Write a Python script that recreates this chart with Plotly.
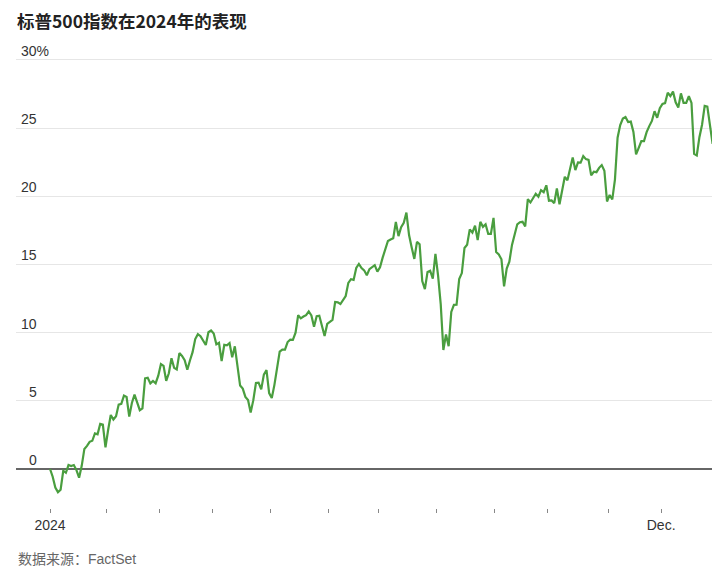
import pandas as pd
import plotly.graph_objects as go

# ---- data ----
holidays = ["2024-01-01", "2024-01-15", "2024-02-19", "2024-03-29", "2024-05-27",
            "2024-06-19", "2024-07-04", "2024-09-02", "2024-11-28", "2024-12-25"]

jan = [-0.57, -1.36, -1.70, -1.52, -0.13, -0.28, 0.29, 0.22, 0.29, -0.08, -0.64, 0.23, 1.47,
       1.69, 1.99, 2.07, 2.61, 2.54, 3.31, 3.25, 1.59]
feb = [2.86, 3.96, 3.63, 3.87, 4.72, 4.78, 5.38, 5.28, 3.84, 4.84, 5.45, 4.94, 4.31, 4.44,
       6.65, 6.69, 6.28, 6.46, 6.29, 6.84]
mar = [7.70, 7.57, 6.47, 7.02, 8.12, 7.42, 7.30, 8.50, 8.29, 7.98, 7.28, 7.96, 8.57, 9.53,
       9.89, 9.74, 9.40, 9.09, 10.03, 10.16]
apr = [9.94, 9.14, 9.26, 7.91, 9.11, 9.07, 9.23, 8.19, 9.00, 7.41, 6.12, 5.90, 5.29, 5.06,
       4.14, 5.05, 6.30, 6.33, 5.84, 6.92, 7.26, 5.57]
may = [5.21, 6.17, 7.50, 8.61, 8.76, 8.76, 9.31, 9.49, 9.47, 10.00, 11.28, 11.05, 11.18,
       11.28, 11.56, 11.26, 10.44, 11.21, 11.24, 10.42, 9.76, 10.64]
jun = [10.77, 10.93, 12.25, 12.22, 12.10, 12.39, 12.69, 13.65, 13.92, 13.87, 14.75, 15.04,
       14.74, 14.57, 14.21, 14.66, 14.84, 14.95, 14.48]
jul = [14.79, 15.50, 16.08, 16.72, 16.83, 16.92, 18.12, 17.08, 17.73, 18.06, 18.81, 17.16,
       16.24, 15.41, 16.66, 16.48, 13.78, 13.19, 14.45, 14.54, 13.97, 15.78]
aug = [14.19, 12.09, 8.73, 9.86, 9.01, 11.52, 12.04, 12.05, 13.93, 14.37, 16.21, 16.45,
       17.58, 17.34, 17.84, 16.79, 18.13, 17.76, 17.95, 17.24, 17.24, 18.42]
sep = [15.91, 15.73, 15.38, 13.39, 14.70, 15.21, 16.44, 17.32, 17.95, 18.10, 18.13, 17.79,
       19.79, 19.55, 19.89, 20.19, 19.97, 20.45, 20.30, 20.81]
oct_ = [19.68, 19.70, 19.50, 20.57, 19.42, 20.57, 21.43, 21.18, 21.91, 22.85, 21.92, 22.49,
        22.47, 22.95, 22.73, 22.67, 21.54, 21.80, 21.77, 22.09, 22.29, 21.88, 19.62]
nov = [20.10, 19.77, 21.23, 24.30, 25.23, 25.70, 25.82, 25.45, 25.48, 24.72, 23.08, 23.56,
       24.05, 24.05, 24.71, 25.15, 25.53, 26.24, 25.76, 26.47]
dec = [26.78, 26.84, 27.60, 27.36, 27.68, 26.90, 26.52, 27.55, 26.86, 26.86, 27.34, 26.85,
       23.11, 23.00, 24.34, 25.25, 26.63, 26.58, 25.18, 23.84]

base_value = [0.0]
ytd_pct = base_value + jan + feb + mar + apr + may + jun + jul + aug + sep + oct_ + nov + dec

trade_dates = [pd.Timestamp("2024-01-01")] + [
    d for d in pd.bdate_range("2024-01-02", "2024-12-30") if d.strftime("%Y-%m-%d") not in holidays
]
assert len(trade_dates) == len(ytd_pct), (len(trade_dates), len(ytd_pct))

y_ticks = [0, 5, 10, 15, 20, 25, 30]
y_tick_labels = ["0", "5", "10", "15", "20", "25", "30%"]
x_tick_label_map = {1: "2024", 12: "Dec."}

# ---- positions along trading-day index ----
x_idx = list(range(len(ytd_pct)))
tickvals, ticktext = [], []
seen = set()
for i, d in enumerate(trade_dates):
    if d.month not in seen:
        seen.add(d.month)
        tickvals.append(i if i == 0 else i - 0.5)
        ticktext.append(x_tick_label_map.get(d.month, ""))

LBL_FONT = "Liberation Sans, Arial, sans-serif"
SRC_FONT = "Liberation Sans, Arial, Noto Sans CJK SC, sans-serif"
CJK_FONT = "Noto Sans CJK SC, sans-serif"

fig = go.Figure()
fig.add_trace(go.Scatter(
    x=x_idx, y=ytd_pct, mode="lines",
    line=dict(color="#4a9e3f", width=2.2),
    hoverinfo="skip", showlegend=False,
))

annotations = []
for v, t in zip(y_ticks, y_tick_labels):
    shift = 23 + (12 if t.endswith("%") else 0)
    annotations.append(dict(
        x=0, xref="paper", xshift=shift, y=v, yref="y", yshift=-1,
        text=t, showarrow=False, xanchor="right", yanchor="bottom",
        font=dict(family=LBL_FONT, size=14, color="#333333"),
    ))
annotations.append(dict(
    x=0, xref="paper", y=-0.1121, yref="paper", text="数据来源：FactSet",
    showarrow=False, xanchor="left", yanchor="middle",
    font=dict(family=SRC_FONT, size=14, color="#666666"),
))
annotations.append(dict(
    x=0, xref="paper", xshift=-1, y=1 + (45 - 12) / 455, yref="paper",
    text="<b>标普500指数在2024年的表现</b>",
    showarrow=False, xanchor="left", yanchor="middle",
    font=dict(family=CJK_FONT, size=17.5, color="#222222"),
))

W, H = 712, 571  # page body adds an 8px offset in the 720x579 window
fig.update_layout(
    width=W, height=H,
    margin=dict(l=8, r=0, t=45, b=71),
    paper_bgcolor="white", plot_bgcolor="white",
    xaxis=dict(
        range=[-12.9, 253.8], showgrid=False, zeroline=False, showline=False,
        tickmode="array", tickvals=tickvals, ticktext=ticktext,
        ticks="outside", ticklen=4, tickwidth=1, tickcolor="#888888",
        tickfont=dict(family=LBL_FONT, size=14, color="#333333"),
    ),
    yaxis=dict(
        range=[-2.862, 30.513], showgrid=True, gridcolor="#e6e6e6", gridwidth=1,
        tickmode="array", tickvals=y_ticks, showticklabels=False, ticks="",
        zeroline=True, zerolinecolor="#666666", zerolinewidth=1.5, showline=False,
    ),
    annotations=annotations,
)

fig.write_html("out.html")
